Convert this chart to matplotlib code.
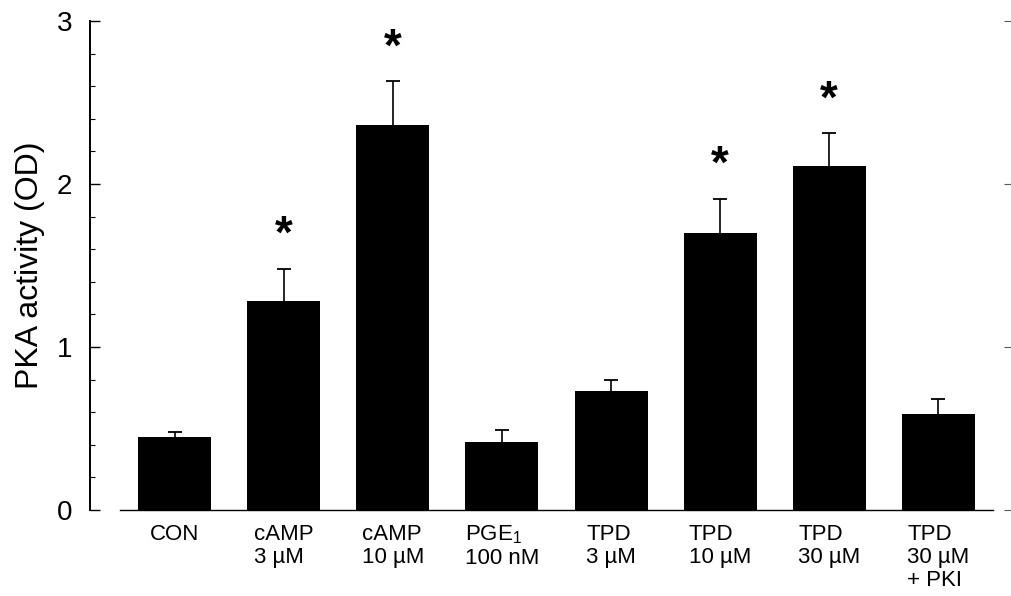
import numpy as np
import matplotlib
matplotlib.use('Agg')
import matplotlib.pyplot as plt
from matplotlib.ticker import MultipleLocator

plt.rcParams['font.family'] = 'Liberation Sans'
plt.rcParams['mathtext.fontset'] = 'custom'
plt.rcParams['mathtext.rm'] = 'Liberation Sans'

# data
labels = ['CON', 'cAMP\n3 µM', 'cAMP\n10 µM', 'PGE$_\\mathregular{1}$\n100 nM',
          'TPD\n3 µM', 'TPD\n10 µM', 'TPD\n30 µM', 'TPD\n30 µM\n+ PKI']
values = [0.45, 1.28, 2.36, 0.42, 0.73, 1.70, 2.11, 0.59]
errors = [0.03, 0.20, 0.27, 0.07, 0.07, 0.21, 0.20, 0.09]
significant = [False, True, True, False, False, True, True, False]

x = np.arange(len(values))

fig = plt.figure(figsize=(10.12, 5.96), dpi=100)
ax = fig.add_axes([0.1186, 0.1443, 0.8626, 0.8205])

ax.bar(x, values, width=0.67, color='black', zorder=2)
eb = ax.errorbar(x, values, yerr=[np.zeros(len(values)), errors], fmt='none',
                 ecolor='black', elinewidth=1.2, capsize=4.7, capthick=1.3, zorder=1)
eb[1][0].set_visible(False)  # only upper caps

# asterisks for significant groups
for xi, v, e, s in zip(x, values, errors, significant):
    if s:
        ax.text(xi, v + e + 0.2, '*', ha='center', va='center',
                fontsize=33, fontweight='bold')

ax.set_xlim(-0.5, 7.5)
ax.set_ylim(0, 3)
ax.set_xticks(x)
ax.set_xticklabels(labels, fontsize=16, va='top', multialignment='left')
for t in ax.get_xticklabels():
    t.set_linespacing(1.12)
ax.tick_params(axis='x', length=0, pad=10)

ax.yaxis.set_major_locator(MultipleLocator(1))
ax.yaxis.set_minor_locator(MultipleLocator(0.2))
ax.tick_params(axis='y', which='major', direction='in', length=7.2, width=1,
               labelsize=20, pad=13)
ax.tick_params(axis='y', which='minor', direction='in', length=3.6, width=0.8)
ax.set_ylabel('PKA activity (OD)', fontsize=23, labelpad=8)

ax.spines['top'].set_visible(False)
ax.spines['right'].set_visible(False)
ax.spines['left'].set_position(('outward', 21.6))
ax.spines['left'].set_linewidth(1.4)
ax.spines['bottom'].set_linewidth(1.0)

# faint tick marks on the far right edge
ax2 = ax.twinx()
ax2.set_ylim(0, 3)
ax2.yaxis.set_major_locator(MultipleLocator(1))
ax2.tick_params(axis='y', direction='out', length=5, width=0.8, colors='0.35',
                labelright=False)
for s in ax2.spines.values():
    s.set_visible(False)
ax2.spines['right'].set_position(('outward', 8))

fig.savefig('out.png', dpi=100)
